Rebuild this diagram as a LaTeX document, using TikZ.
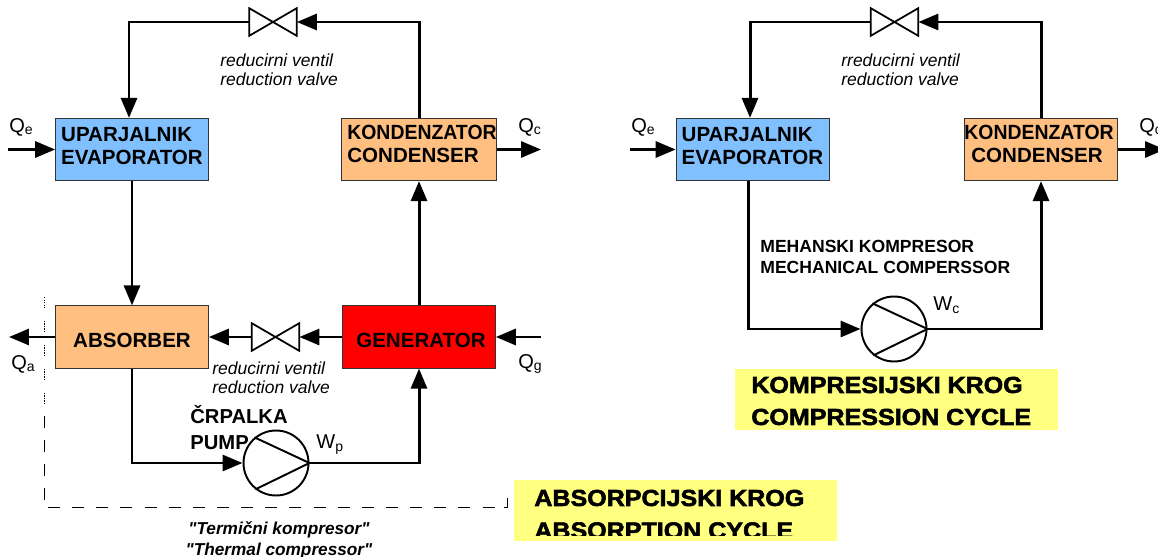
\documentclass[tikz,border=0pt]{standalone}
\usepackage{fontspec}
\setmainfont{Liberation Sans}
\newfontfamily\titlefont[FakeBold=2.4,FakeStretch=1.08]{Liberation Sans Bold}
\newfontfamily\quotefont{Liberation Sans}
\usetikzlibrary{arrows.meta}

\definecolor{evapblue}{HTML}{80C0FF}
\definecolor{condorange}{HTML}{FFBF80}
\definecolor{notepaper}{HTML}{FFFF80}

\newcommand{\bigbf}{\fontsize{11.7}{13.1}\selectfont\bfseries}
\newcommand{\heat}[2]{#1\textsubscript{#2}}
\newcommand{\kond}{\scalebox{0.945}[1]{KONDENZATOR}}

\tikzset{
	box/.style={draw=black!80, line width=0.4pt, minimum width=3.06cm, minimum height=1.25cm, inner sep=0pt, font=\bigbf},
	evaptext/.style={align=left, text height=0.64cm, text depth=0.02cm},
	condtext/.style={align=left, text height=0.56cm, text depth=0.02cm},
	oneline/.style={text height=0.42cm, text depth=0pt},
	valve/.style={minimum width=0.94cm, minimum height=0.54cm, inner sep=0pt, fill=white},
	pump/.style={circle, draw, line width=1.1pt, minimum size=1.3cm, inner sep=0pt, fill=white},
	flow/.style={line width=1.7pt, -{Triangle[length=0.4cm, width=0.32cm]}},
	note/.style={anchor=west, align=left, inner sep=0pt, font=\fontsize{9.95}{10.9}\selectfont\itshape},
	small/.style={anchor=west, align=left, inner sep=0pt, font=\fontsize{10}{12}\selectfont\bfseries},
	qlabel/.style={anchor=west, inner sep=0pt, font=\fontsize{11.4}{13}\selectfont},
	paper/.style={fill=notepaper, draw=none},
	cycletitle/.style={anchor=west, inner sep=0pt, font=\fontsize{13.2}{15}\selectfont\titlefont}
}

\begin{document}
\begin{tikzpicture}[x=0.02cm, y=-0.02cm]
	
	\clip (0,0) rectangle (1158,557);
	
	% left: absorption cycle
	\node[box, evaptext, fill=evapblue] (evapA) at (132,149.5) {UPARJALNIK\\EVAPORATOR};
	\node[box, condtext, fill=condorange] (condA) at (419,149.5) {\hspace*{0.12cm}\kond\\\hspace*{0.12cm}CONDENSER};
	\node[box, oneline, fill=condorange] (absorber) at (132,337) {ABSORBER};
	\node[box, oneline, fill=red] (generator) at (419,337) {\hspace*{0.08cm}GENERATOR};
	
	\node[valve] (valveA) at (273,22) {};
	\node[valve] (valveB) at (275.5,337) {};
	\node[pump] (pumpA) at (276,463) {};
	
	\coordinate (qeinA) at (8,149.5);
	\coordinate (qcoutA) at (541,149.5);
	\coordinate (qaout) at (9,337);
	\coordinate (qgin) at (541,337);
	
	\draw[flow] (condA.north) |- (valveA.east);
	\draw[flow] (valveA.west) -| ([xshift=-0.06cm]evapA.north);
	\draw[flow] (evapA.south) -- (absorber.north);
	\draw[flow] (generator.north) -- (condA.south);
	\draw[flow] (generator.west) -- (valveB.east);
	\draw[flow] (valveB.west) -- (absorber.east);
	\draw[flow] (absorber.south) |- (pumpA.west);
	\draw[flow] (pumpA.east) -| (generator.south);
	
	\draw[flow] (qeinA) -- (evapA.west);
	\draw[flow] (condA.east) -- (qcoutA);
	\draw[flow] (absorber.west) -- (qaout);
	\draw[flow] (qgin) -- (generator.east);
	
	\node[note] (noteA) at (220,69.5) {reducirni ventil\\reduction valve};
	\node[note] (noteB) at (212,378) {reducirni ventil\\reduction valve};
	\node[small, font=\fontsize{11.5}{13.1}\selectfont\bfseries] (pumpname) at (190,428) {ČRPALKA\\[0.06cm]PUMP};
	
	\node[qlabel] (qe) at (9,127) {\heat{Q}{e}};
	\node[qlabel] (qc) at (518,127) {\heat{Q}{c}};
	\node[qlabel] (qa) at (11,364) {\heat{Q}{a}};
	\node[qlabel] (qg) at (518,364) {\heat{Q}{g}};
	\node[qlabel] (wp) at (316,445) {\heat{W}{p}};
	
	% thermal compressor frame
	\coordinate (frameA) at (44.5,297);
	\coordinate (frameB) at (44.5,410);
	\coordinate (frameC) at (44.5,416);
	\coordinate (frameD) at (44.5,501);
	\coordinate (frameE) at (48,507.5);
	\coordinate (frameF) at (496,507.5);
	\coordinate (frameG) at (504,507.5);
	\coordinate (frameH) at (507,507.5);
	\coordinate (frameI) at (507,498);
	\draw[line width=0.5pt, dash pattern=on .028cm off .022cm on .028cm off .022cm on .028cm off .022cm on .028cm off .022cm on .028cm off .252cm] (frameA) -- (frameB);
	\draw[line width=0.5pt, dash pattern=on 0.24cm off 0.24cm] (frameC) -- (frameD);
	\draw[line width=0.5pt, dash pattern=on 0.24cm off 0.243cm] (frameE) -- (frameF);
	\draw[line width=0.5pt] (frameG) -- (frameH) -- (frameI);
	
	\node[anchor=center, align=center, inner sep=0pt, font=\fontsize{9.8}{12}\selectfont\quotefont\bfseries\itshape] (thermal) at (279,540.5) {"Termični kompresor"\\"Thermal compressor"};
	
	\fill[paper] (514,480) rectangle (837,541);
	\begin{scope}
		\clip (514,480) rectangle (837,535.7);
		\node[cycletitle] (absA) at (534,498) {ABSORPCIJSKI KROG};
		\node[cycletitle] (absB) at (534,530.5) {ABSORPTION CYCLE};
	\end{scope}
	
	% right: compression cycle
	\node[box, evaptext, fill=evapblue] (evapB) at (752.5,149.5) {UPARJALNIK\\EVAPORATOR};
	\node[box, condtext, fill=condorange] (condB) at (1041,149.5) {\hspace*{-0.08cm}\kond\\\hspace*{0.06cm}CONDENSER};
	
	\node[valve] (valveC) at (894.5,22) {};
	\node[pump] (pumpB) at (894,329) {};
	
	\coordinate (qeinB) at (630,149.5);
	\coordinate (qcoutB) at (1165,149.5);
	
	\draw[flow] (condB.north) |- (valveC.east);
	\draw[flow] (valveC.west) -| ([xshift=-0.05cm]evapB.north);
	\draw[flow] ([xshift=-0.09cm]evapB.south) |- (pumpB.west);
	\draw[flow] (pumpB.east) -| (condB.south);
	\draw[flow] (qeinB) -- (evapB.west);
	\draw[flow] (condB.east) -- (qcoutB);
	
	\node[note] (noteC) at (841,69.5) {rreducirni ventil\\reduction valve};
	\node[small] (compname) at (760,256.5) {MEHANSKI KOMPRESOR\\MECHANICAL COMPERSSOR};
	
	\node[qlabel] (qeB) at (631,127) {\heat{Q}{e}};
	\node[qlabel] (qcB) at (1139,127) {\heat{Q}{c}};
	\node[qlabel] (wc) at (933,305) {\heat{W}{c}};
	
	\fill[paper] (735,369) rectangle (1057.5,430);
	\node[cycletitle] (compA) at (751,385) {KOMPRESIJSKI KROG};
	\node[cycletitle] (compB) at (751,417) {COMPRESSION CYCLE};
	
	% valve and pump symbols
	\foreach \v in {valveA,valveB,valveC}
		\draw[line width=1pt, line join=miter] (\v.north west) -- (\v.south east) -- (\v.north east) -- (\v.south west) -- cycle;
	\foreach \p in {pumpA,pumpB}
		\draw[line width=1.1pt] (\p.130) -- (\p.east) -- (\p.232);
	
\end{tikzpicture}
\end{document}
